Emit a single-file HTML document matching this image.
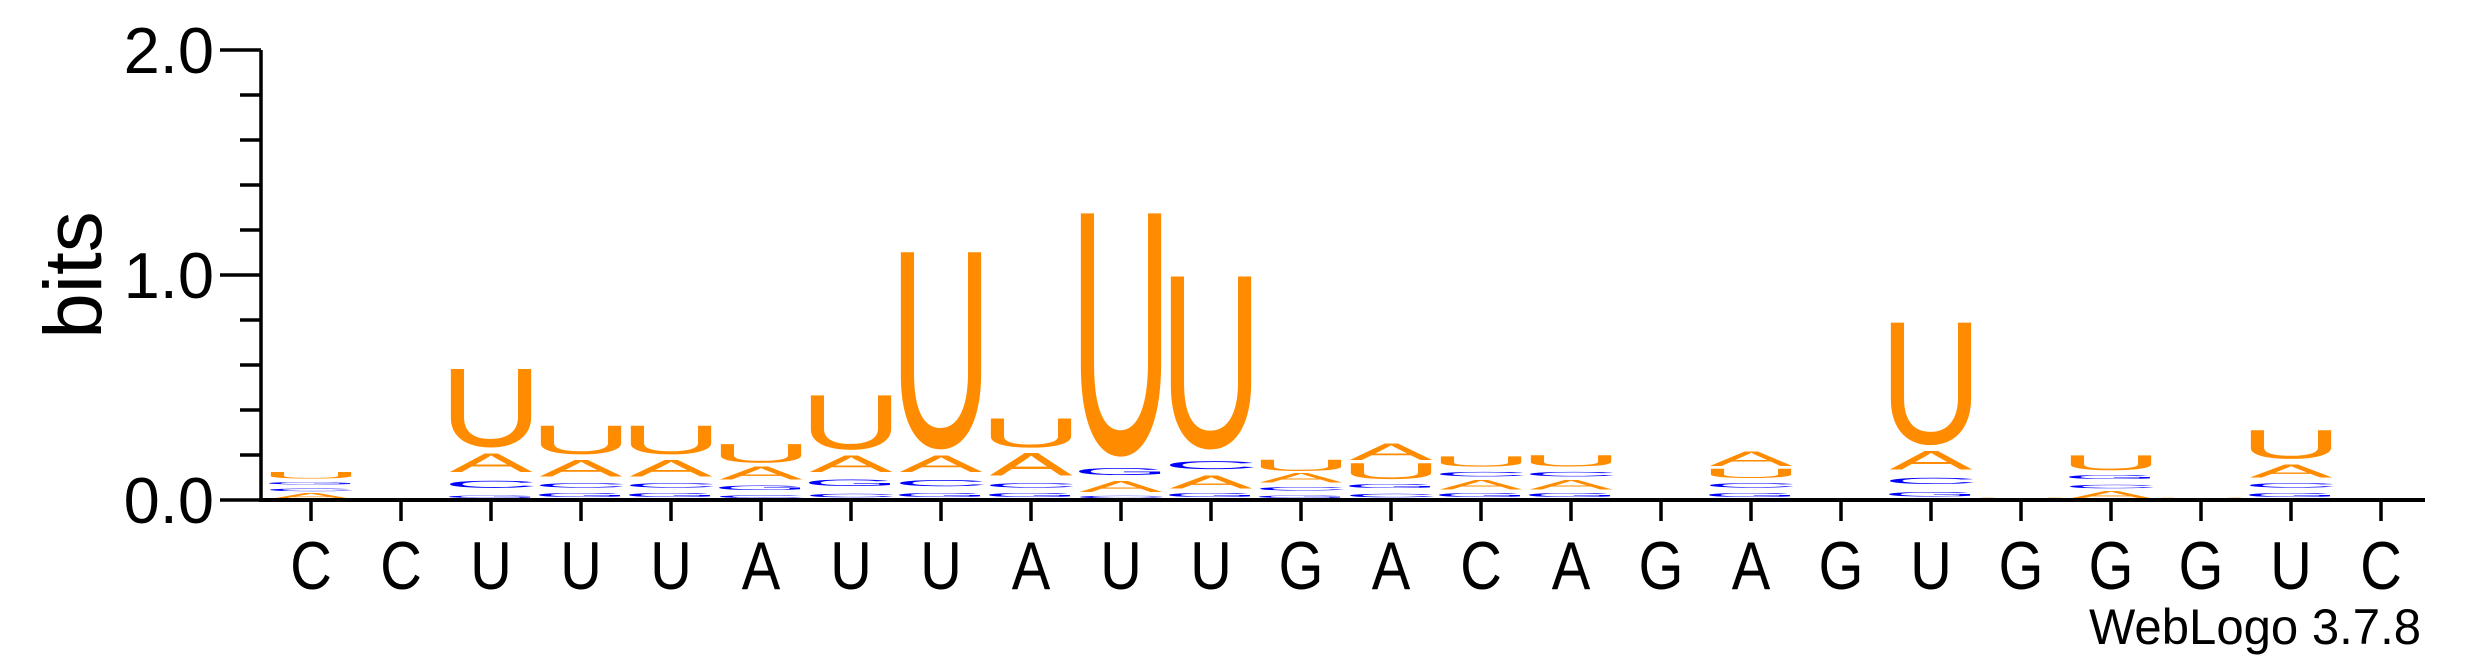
<!DOCTYPE html>
<html><head><meta charset="utf-8"><style>
html,body{margin:0;padding:0;background:#fff;}
svg{display:block;}
text{font-family:"Liberation Sans",Arial,sans-serif;}
</style></head><body>
<svg id="chart" width="2475" height="667" viewBox="0 0 2475 667" xmlns="http://www.w3.org/2000/svg">
<g id="stacks"></g>
<g id="axes"></g>
<text x="0" y="0" font-size="82" text-anchor="middle" transform="translate(101,275) rotate(-90)">bits</text>
<text x="2421" y="644" font-size="50" text-anchor="end" textLength="332" lengthAdjust="spacingAndGlyphs">WebLogo 3.7.8</text>
</svg>
<script>
const positions = ["C","C","U","U","U","A","U","U","A","U","U","G","A","C","A","G","A","G","U","G","G","G","U","C"];
const bitsA = [0.03,0,0.10,0.09,0.09,0.07,0.09,0.09,0.12,0.06,0.07,0.05,0.09,0.05,0.05,0,0.08,0,0.10,0.005,0.04,0.005,0.07,0];
const bitsC = [0.03,0,0.08,0.05,0.05,0.03,0.04,0.07,0.05,0.027,0.09,0.04,0.04,0.05,0.05,0,0.05,0,0.07,0,0.04,0,0.05,0];
const bitsG = [0.03,0,0.03,0.04,0.04,0.05,0.07,0.04,0.04,0.08,0.04,0.03,0.04,0.04,0.04,0,0.04,0,0.05,0,0.04,0,0.04,0];
const bitsU = [0.035,0,0.38,0.153,0.153,0.10,0.27,0.92,0.155,1.13,0.81,0.06,0.085,0.055,0.06,0,0.05,0,0.58,0.005,0.08,0.005,0.153,0];
const yTicks = [0,0.2,0.4,0.6,0.8,1.0,1.2,1.4,1.6,1.8,2.0];
const yTickLabels = ["0.0","1.0","2.0"];

const NS="http://www.w3.org/2000/svg";
const x0=311, dx=90, y0=500, pxPerBit=225;
const xs = i => x0 + i*dx;
const ys = b => y0 - b*pxPerBit;
const colors={A:"#FF8C00",U:"#FF8C00",C:"#0000FF",G:"#0000FF"};
const ink={A:0.66,C:0.62,G:0.66,U:0.58};
const stacks=document.getElementById('stacks');
const axes=document.getElementById('axes');

positions.forEach((p,i)=>{
  const letters=[["A",bitsA[i]],["C",bitsC[i]],["G",bitsG[i]],["U",bitsU[i]]].filter(d=>d[1]>0).sort((a,b)=>a[1]-b[1]);
  let acc=0;
  letters.forEach(([L,h])=>{
    const ybBox=ys(acc), ytBox=ys(acc+h); acc+=h;
    const boxH=ybBox-ytBox;
    const blue=(L==='C'||L==='G');
    const insB=blue?Math.min(boxH*0.3,12):Math.min(boxH*0.15,5);
    const insT=blue?insB:0;
    const yb=ybBox-insB, hp=boxH-insB-insT;
    if(hp<0.5) return;
    const t=document.createElementNS(NS,'text');
    
    
    t.textContent=L;
    t.setAttribute('font-size','100');
    t.setAttribute('text-anchor','middle');
    t.setAttribute('fill',colors[L]);
    const sx=82/(ink[L]*100), sy=hp/71.5;
    t.setAttribute('transform','translate('+xs(i)+','+(yb-(L!=='A'?1.2*sy:0))+') scale('+sx+','+sy+')');
    stacks.appendChild(t);
  });
  const tk=document.createElementNS(NS,'line');
  
  
  tk.setAttribute('x1',xs(i));tk.setAttribute('x2',xs(i));tk.setAttribute('y1',y0);tk.setAttribute('y2',521);
  tk.setAttribute('stroke','#000');tk.setAttribute('stroke-width','3.5');
  axes.appendChild(tk);
  const lb=document.createElementNS(NS,'text');
  
  
  lb.setAttribute('font-size','68');lb.setAttribute('text-anchor','middle');
  lb.setAttribute('transform','translate('+xs(i)+',589) scale(0.85,1)');
  lb.textContent=p;
  axes.appendChild(lb);
});

const xa=document.createElementNS(NS,'line');


xa.setAttribute('x1',259);xa.setAttribute('x2',2425);xa.setAttribute('y1',y0);xa.setAttribute('y2',y0);
xa.setAttribute('stroke','#000');xa.setAttribute('stroke-width','4');
axes.appendChild(xa);
const ya=document.createElementNS(NS,'line');


ya.setAttribute('x1',261);ya.setAttribute('x2',261);ya.setAttribute('y1',ys(2));ya.setAttribute('y2',y0+2);
ya.setAttribute('stroke','#000');ya.setAttribute('stroke-width','3.5');
axes.appendChild(ya);
yTicks.forEach(v=>{
  const major=Math.abs(v-Math.round(v))<1e-6;
  const l=document.createElementNS(NS,'line');
  
  
  l.setAttribute('x1',major?220:240);l.setAttribute('x2',261);l.setAttribute('y1',ys(v));l.setAttribute('y2',ys(v));
  l.setAttribute('stroke','#000');l.setAttribute('stroke-width','3.5');
  axes.appendChild(l);
});
yTickLabels.forEach(s=>{
  const t=document.createElementNS(NS,'text');
  
  
  t.setAttribute('font-size','65');t.setAttribute('text-anchor','end');
  t.setAttribute('x',214);t.setAttribute('y',ys(parseFloat(s))+23);
  t.textContent=s;
  axes.appendChild(t);
});
</script>
</body></html>
